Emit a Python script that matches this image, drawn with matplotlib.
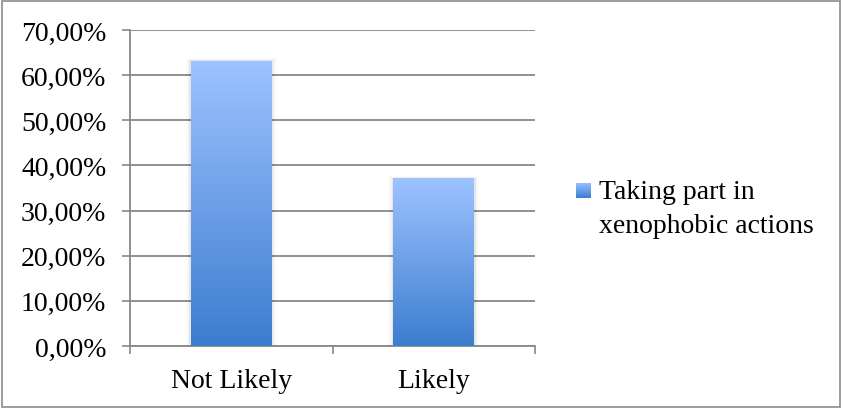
import numpy as np
import matplotlib
matplotlib.use("Agg")
import matplotlib.pyplot as plt
from matplotlib.colors import LinearSegmentedColormap
from matplotlib.patches import Rectangle

categories = ["Not Likely", "Likely"]
values = [63.0, 37.0]
series_name = "Taking part in\nxenophobic actions"
yticks = [0, 10, 20, 30, 40, 50, 60, 70]

top_color = "#9dc3ff"
bottom_color = "#3c7dcf"
grad = LinearSegmentedColormap.from_list("bar", [bottom_color, top_color])

plt.rcParams["font.family"] = ["Liberation Serif", "DejaVu Serif"]

W, H = 843, 410
fig = plt.figure(figsize=(W / 100, H / 100), dpi=100)
ax = fig.add_axes([130 / W, 63 / H, 405 / W, 316 / H])

x = np.arange(len(categories))
bars = ax.bar(x, values, width=0.4, color="none", edgecolor="none", zorder=3)

# vertical gradient inside each bar
g = np.linspace(0, 1, 256).reshape(-1, 1)
for b in bars:
    x0, w, h = b.get_x(), b.get_width(), b.get_height()
    # faint shadow
    for k, a in enumerate([0.05, 0.03, 0.015]):
        ax.add_patch(Rectangle((x0 - 0.008 * (k + 1), 0), w + 0.016 * (k + 1),
                               h + 0.25 * (k + 1), facecolor="black",
                               edgecolor="none", alpha=a, zorder=2))
    ax.imshow(g, extent=[x0, x0 + w, 0, h], origin="lower", aspect="auto",
              cmap=grad, zorder=3)

ax.set_xlim(-0.5, len(categories) - 0.5)
ax.set_ylim(0, 70)
ax.set_yticks(yticks)
ax.set_yticklabels([f"{v:.2f}%".replace(".", ",") for v in yticks], fontsize=20)
ax.set_xticks(x)
ax.set_xticklabels(categories, fontsize=20)

# category boundary ticks on x axis
ax.set_xticks(np.arange(-0.5, len(categories)), minor=True)
ax.tick_params(axis="x", which="major", length=0, pad=16)
ax.tick_params(axis="x", which="minor", length=6, width=1.2, color="#888888")
ax.tick_params(axis="y", length=6, width=1.2, color="#888888", pad=11)

ax.grid(axis="y", color="#888888", linewidth=1.3, zorder=1)
ax.set_axisbelow(True)
for s in ["top", "right"]:
    ax.spines[s].set_visible(False)
for s in ["left", "bottom"]:
    ax.spines[s].set_color("#888888")
    ax.spines[s].set_linewidth(1.3)

# legend: gradient square next to the first line of the label
key = fig.add_axes([576 / W, 1 - 199 / H, 15 / W, 15 / H])
key.imshow(g, origin="lower", aspect="auto", cmap=grad)
key.set_axis_off()
fig.text(599 / W, 1 - 233 / H, series_name, fontsize=20, va="baseline",
         ha="left", linespacing=1.45)

# outer frame
fig.patches.append(Rectangle((0.002, 0.004), 0.995, 0.992, transform=fig.transFigure,
                             facecolor="none", edgecolor="#8c8c8c", linewidth=1.2))

fig.savefig("out.png", dpi=100)
